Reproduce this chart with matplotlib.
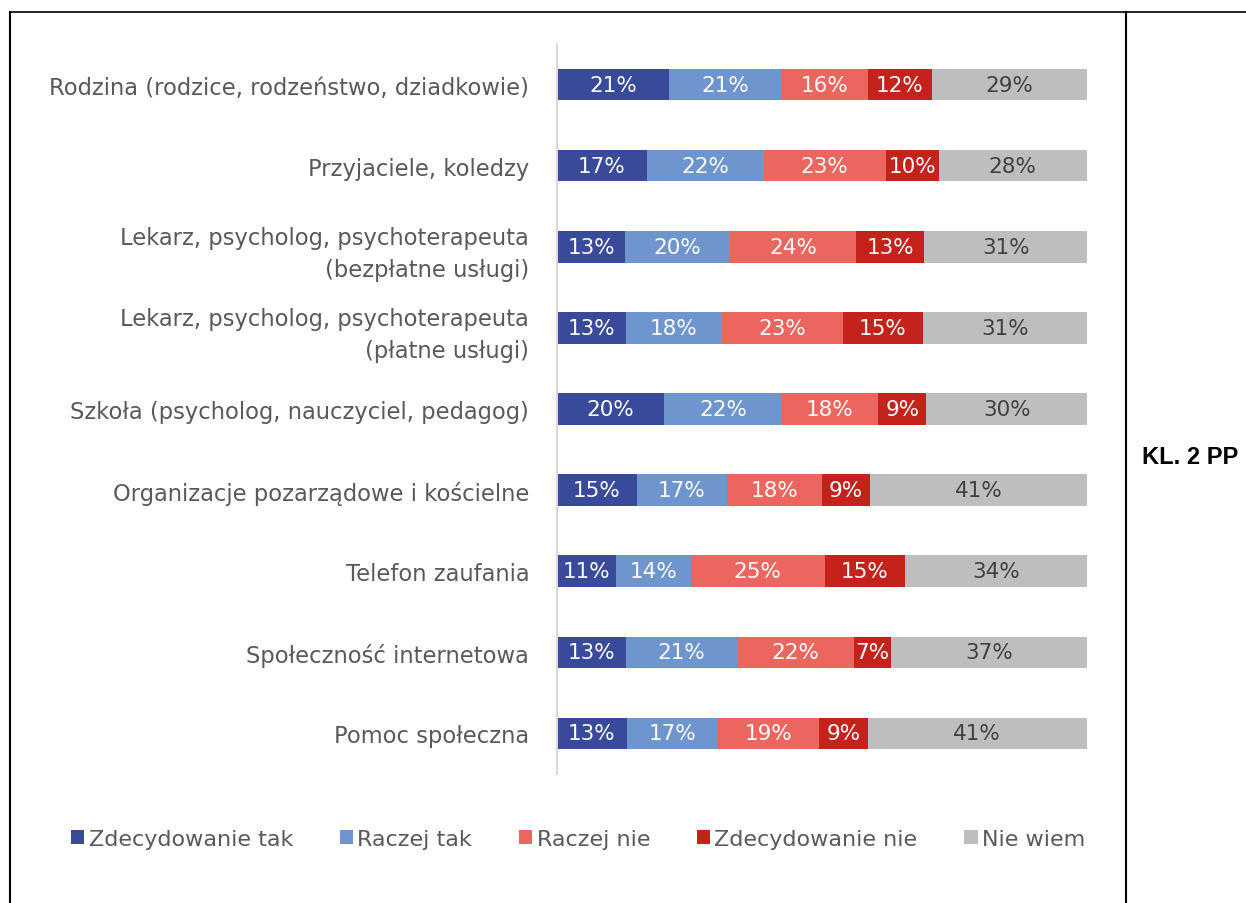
import matplotlib
matplotlib.use("Agg")
import matplotlib.pyplot as plt
from matplotlib.lines import Line2D
import numpy as np

categories = [
    "Rodzina (rodzice, rodzeństwo, dziadkowie)",
    "Przyjaciele, koledzy",
    "Lekarz, psycholog, psychoterapeuta\n(bezpłatne usługi)",
    "Lekarz, psycholog, psychoterapeuta\n(płatne usługi)",
    "Szkoła (psycholog, nauczyciel, pedagog)",
    "Organizacje pozarządowe i kościelne",
    "Telefon zaufania",
    "Społeczność internetowa",
    "Pomoc społeczna",
]
series_names = ["Zdecydowanie tak", "Raczej tak", "Raczej nie", "Zdecydowanie nie", "Nie wiem"]
zdecydowanie_tak = [21, 17, 13, 13, 20, 15, 11, 13, 13]
raczej_tak = [21, 22, 20, 18, 22, 17, 14, 21, 17]
raczej_nie = [16, 23, 24, 23, 18, 18, 25, 22, 19]
zdecydowanie_nie = [12, 10, 13, 15, 9, 9, 15, 7, 9]
nie_wiem = [29, 28, 31, 31, 30, 41, 34, 37, 41]

colors = ["#3A4A9A", "#6E95CE", "#EB665E", "#C4231C", "#BEBEBE"]
label_colors = ["white", "white", "white", "white", "#404040"]

plt.rcParams['font.family'] = ['DejaVu Sans']

W, H = 1246, 904
fig = plt.figure(figsize=(W / 100, H / 100), dpi=100)
ax = fig.add_axes([557 / W, 1 - 775 / H, (1087 - 557) / W, (775 - 45) / H])

data = np.array([zdecydowanie_tak, raczej_tak, raczej_nie, zdecydowanie_nie, nie_wiem], dtype=float)
totals = data.sum(axis=0)
shares = data / totals * 100

y = np.arange(len(categories))
left = np.zeros(len(categories))
for i, name in enumerate(series_names):
    bars = ax.barh(y, shares[i], left=left, height=0.39, color=colors[i], label=name)
    labels = [f"{int(v)}%" for v in data[i]]
    ax.bar_label(bars, labels=labels, label_type='center', color=label_colors[i], fontsize=15.5)
    left += shares[i]

ax.set_xlim(0, 100)
ax.set_ylim(len(categories) - 0.5, -0.5)
ax.set_yticks(y)
ax.set_yticklabels(categories, fontsize=16.3, color="#595959", multialignment='right',
                   linespacing=1.5)
ax.tick_params(axis='y', length=0, pad=20)
ax.set_xticks([])
for s in ['top', 'right', 'bottom']:
    ax.spines[s].set_visible(False)
ax.spines['left'].set_color('#D9D9D9')
ax.spines['left'].set_linewidth(1.5)

leg = fig.legend(loc='center', bbox_to_anchor=(578 / W, 1 - 840 / H), ncol=5, frameon=False,
                 fontsize=16, handlelength=0.6, handleheight=0.6, handletextpad=0.2,
                 columnspacing=2.1, labelcolor="#595959")

fig.text(1190 / W, 1 - 458 / H, "KL. 2 PP", fontsize=17, fontweight='bold',
         family='Liberation Sans', ha='center', va='center', color='black')

fig.add_artist(Line2D([10 / W, 10 / W], [0, 1 - 13 / H], color='black', lw=1.5, transform=fig.transFigure))
fig.add_artist(Line2D([1126 / W, 1126 / W], [0, 1 - 13 / H], color='black', lw=1.5, transform=fig.transFigure))
fig.add_artist(Line2D([10 / W, 1], [1 - 13 / H, 1 - 13 / H], color='black', lw=1.2, transform=fig.transFigure))

fig.savefig("out.png", dpi=100)
